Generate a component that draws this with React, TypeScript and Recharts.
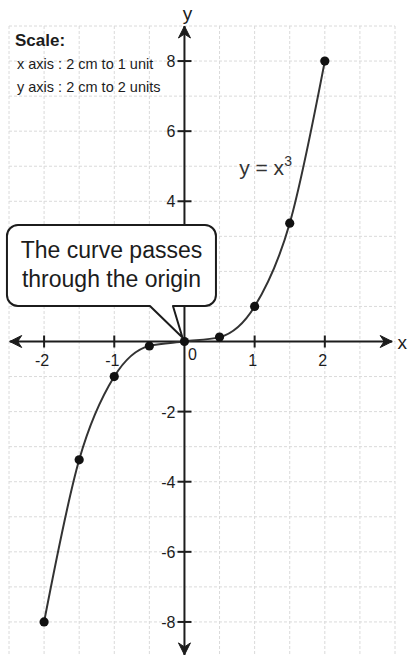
import React from "react";
import {
  LineChart,
  Line,
  XAxis,
  YAxis,
  CartesianGrid,
  ReferenceLine,
  ReferenceDot,
} from "recharts";

// Sample points of y = x^3
const xValues = [-2, -1.5, -1, -0.5, 0, 0.5, 1, 1.5, 2];
const yValues = [-8, -3.375, -1, -0.125, 0, 0.125, 1, 3.375, 8];

// Grid lines (x every half unit, y every unit)
const xGridTicks = [-2.5, -2, -1.5, -1, -0.5, 0, 0.5, 1, 1.5, 2, 2.5, 3];
const yGridTicks = [-9, -8, -7, -6, -5, -4, -3, -2, -1, 0, 1, 2, 3, 4, 5, 6, 7, 8, 9];

// Labelled ticks on the axes (the y = 2 tick sits under the callout)
const xLabelTicks = [-2, -1, 1, 2];
const yLabelTicks = [8, 6, 4, -2, -4, -6, -8];

// Axis extents (arrow tips)
const xAxisExtent = [-2.49, 2.96];
const yAxisExtent = [-8.94, 9];

// Annotation anchor for the equation label
const equationAnchor = { x: 0.78, y: 4.75 };

const data = xValues.map((x, i) => ({ x, y: yValues[i] }));

const FONT = "'Liberation Sans', Arial, sans-serif";
const INK = "#1c1c1c";

type DotProps = { cx?: number; cy?: number };

const xTickShape = (label: number) => (p: DotProps) => {
  const cx = p.cx ?? 0;
  const cy = p.cy ?? 0;
  return (
    <g>
      <line x1={cx} y1={cy - 6} x2={cx} y2={cy + 6} stroke={INK} strokeWidth={2} />
      <text
        x={cx - 2}
        y={cy + 24}
        textAnchor="middle"
        fontFamily={FONT}
        fontSize={16}
        fill={INK}
      >
        {label}
      </text>
    </g>
  );
};

const yTickShape = (label: number) => (p: DotProps) => {
  const cx = p.cx ?? 0;
  const cy = p.cy ?? 0;
  return (
    <g>
      <line x1={cx - 7} y1={cy} x2={cx + 7} y2={cy} stroke={INK} strokeWidth={2} />
      <text
        x={cx - 9}
        y={cy + 6}
        textAnchor="end"
        fontFamily={FONT}
        fontSize={16}
        fill={INK}
      >
        {label}
      </text>
    </g>
  );
};

const originLabel = (p: DotProps) => {
  const cx = p.cx ?? 0;
  const cy = p.cy ?? 0;
  return (
    <text x={cx + 8} y={cy + 18} textAnchor="middle" fontFamily={FONT} fontSize={16} fill={INK}>
      0
    </text>
  );
};

// Arrowhead pointing in direction (dx, dy) with the tip at (cx, cy)
const arrowHead = (dx: number, dy: number, name: string, lx: number, ly: number) => (p: DotProps) => {
  const cx = p.cx ?? 0;
  const cy = p.cy ?? 0;
  const len = 12;
  const half = 6;
  const notch = 8;
  const bx = cx - dx * len;
  const by = cy - dy * len;
  const nx = cx - dx * notch;
  const ny = cy - dy * notch;
  const px = -dy;
  const py = dx;
  const d = `M${cx},${cy} L${bx + px * half},${by + py * half} L${nx},${ny} L${bx - px * half},${by - py * half} Z`;
  return (
    <g>
      <path d={d} fill={INK} stroke={INK} strokeWidth={1} strokeLinejoin="miter" />
      {name ? (
        <text
          x={cx + lx}
          y={cy + ly}
          textAnchor="middle"
          fontFamily={FONT}
          fontSize={19}
          fill={INK}
        >
          {name}
        </text>
      ) : null}
    </g>
  );
};

const equationLabel = (p: DotProps) => {
  const cx = p.cx ?? 0;
  const cy = p.cy ?? 0;
  return (
    <text x={cx} y={cy} fontFamily={FONT} fontSize={21} fill="#333">
      y = x
      <tspan dy={-9} fontSize={14}>
        3
      </tspan>
    </text>
  );
};

// Speech-bubble callout whose tail points at the origin
const callout = (p: DotProps) => {
  const cx = p.cx ?? 0;
  const cy = p.cy ?? 0;
  const L = cx - 177.5;
  const R = cx + 31.5;
  const T = cy - 116.5;
  const B = cy - 35.5;
  const r = 11;
  const tailL = cx - 34.5;
  const tailR = cx - 11.5;
  const tipX = cx - 2;
  const tipY = cy - 4;
  const d = [
    `M${L + r},${T}`,
    `H${R - r}`,
    `A${r},${r} 0 0 1 ${R},${T + r}`,
    `V${B - r}`,
    `A${r},${r} 0 0 1 ${R - r},${B}`,
    `H${tailR}`,
    `L${tipX},${tipY}`,
    `L${tailL},${B}`,
    `H${L + r}`,
    `A${r},${r} 0 0 1 ${L},${B - r}`,
    `V${T + r}`,
    `A${r},${r} 0 0 1 ${L + r},${T}`,
    "Z",
  ].join(" ");
  const midX = (L + R) / 2;
  return (
    <g>
      <path d={d} fill="#fff" stroke={INK} strokeWidth={2} strokeLinejoin="round" />
      <text x={midX} y={cy - 83.5} textAnchor="middle" fontFamily={FONT} fontSize={23} fill={INK}>
        The curve passes
      </text>
      <text x={midX} y={cy - 54.5} textAnchor="middle" fontFamily={FONT} fontSize={23} fill={INK}>
        through the origin
      </text>
    </g>
  );
};

const curveDot = (p: DotProps & { index?: number }) => {
  const cx = p.cx ?? 0;
  const cy = p.cy ?? 0;
  return <circle key={`d-${p.index}`} cx={cx} cy={cy} r={4.6} fill="#111" stroke="none" />;
};

export default function App() {
  return (
    <div
      style={{
        position: "absolute",
        left: 0,
        top: 0,
        width: 408,
        height: 656,
        overflow: "hidden",
        background: "#fff",
      }}
    >
      <LineChart
        width={408}
        height={660}
        data={data}
        margin={{ top: 26, right: 13, bottom: 3, left: 9 }}
      >
        <CartesianGrid stroke="#dadada" strokeDasharray="3 2" strokeWidth={1} />
        <XAxis
          type="number"
          dataKey="x"
          domain={[-2.5, 3]}
          ticks={xGridTicks}
          allowDataOverflow
          hide
        />
        <YAxis type="number" domain={[-9, 9]} ticks={yGridTicks} allowDataOverflow hide />

        {/* Axes */}
        <ReferenceLine
          segment={[
            { x: xAxisExtent[0], y: 0 },
            { x: xAxisExtent[1], y: 0 },
          ]}
          stroke={INK}
          strokeWidth={2}
        />
        <ReferenceLine
          segment={[
            { x: 0, y: yAxisExtent[0] },
            { x: 0, y: yAxisExtent[1] },
          ]}
          stroke={INK}
          strokeWidth={2}
        />
        <ReferenceDot x={xAxisExtent[1]} y={0} r={0} shape={arrowHead(1, 0, "x", 10, 7)} />
        <ReferenceDot x={xAxisExtent[0]} y={0} r={0} shape={arrowHead(-1, 0, "", 0, 0)} />
        <ReferenceDot x={0} y={yAxisExtent[1]} r={0} shape={arrowHead(0, -1, "y", 3, -6)} />
        <ReferenceDot x={0} y={yAxisExtent[0]} r={0} shape={arrowHead(0, 1, "", 0, 0)} />

        {xLabelTicks.map((t) => (
          <ReferenceDot key={`xt${t}`} x={t} y={0} r={0} shape={xTickShape(t)} />
        ))}
        {yLabelTicks.map((t) => (
          <ReferenceDot key={`yt${t}`} x={0} y={t} r={0} shape={yTickShape(t)} />
        ))}
        <ReferenceDot x={0} y={0} r={0} shape={originLabel} />

        <ReferenceDot x={equationAnchor.x} y={equationAnchor.y} r={0} shape={equationLabel} />

        <Line
          type="monotone"
          dataKey="y"
          stroke="#333"
          strokeWidth={2}
          dot={curveDot}
          activeDot={false}
          isAnimationActive={false}
        />

        <ReferenceDot x={0} y={0} r={0} shape={callout} />
      </LineChart>

      <div
        style={{
          position: "absolute",
          left: 15,
          top: 32,
          fontFamily: FONT,
          color: INK,
          lineHeight: 1,
          pointerEvents: "none",
        }}
      >
        <div style={{ fontSize: 17, fontWeight: "bold" }}>Scale:</div>
        <div style={{ fontSize: 14.5, marginTop: 8, marginLeft: 2 }}>x axis : 2 cm to 1 unit</div>
        <div style={{ fontSize: 14.5, marginTop: 8, marginLeft: 2 }}>y axis : 2 cm to 2 units</div>
      </div>
    </div>
  );
}
